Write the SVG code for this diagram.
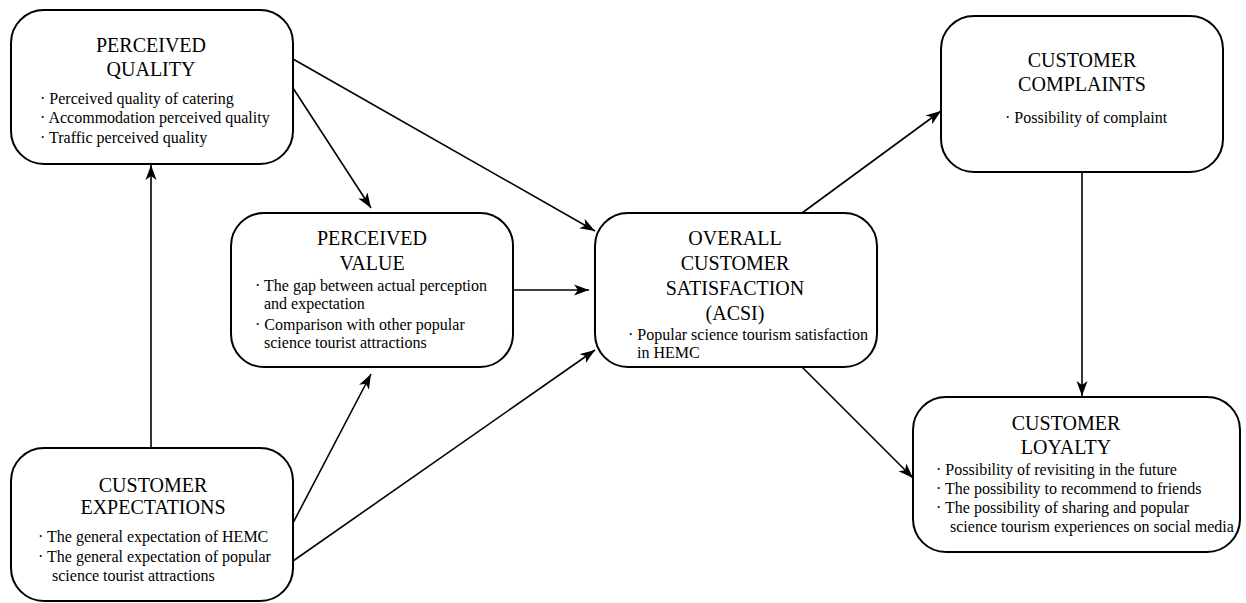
<svg xmlns="http://www.w3.org/2000/svg" width="1246" height="603" viewBox="0 0 1246 603">
<style>
.box{fill:#fff;stroke:#000;stroke-width:2}
.t{font-family:"Liberation Serif","Times New Roman",serif;font-size:20px;fill:#000;text-anchor:middle}
.b{font-family:"Liberation Serif","Times New Roman",serif;font-size:16px;fill:#000}
.c{stroke:#000;stroke-width:1.6;fill:none;marker-end:url(#ah)}
</style>
<defs>
<marker id="ah" markerUnits="userSpaceOnUse" markerWidth="16" markerHeight="12" refX="15" refY="6" orient="auto">
<path d="M0,0.5 L15,6 L0,11.5 L4,6 z" fill="#000"/>
</marker>
</defs>
<rect width="1246" height="603" fill="#fff"/>
<g id="connectors">
<line class="c" x1="151" y1="448" x2="151" y2="165"/>
<line class="c" x1="293" y1="59" x2="595" y2="231"/>
<line class="c" x1="293" y1="88" x2="371" y2="208"/>
<line class="c" x1="512" y1="290" x2="589" y2="290"/>
<line class="c" x1="293" y1="523" x2="371" y2="374"/>
<line class="c" x1="293" y1="561" x2="595" y2="350"/>
<line class="c" x1="802" y1="213" x2="941" y2="111"/>
<line class="c" x1="802" y1="367" x2="913" y2="478"/>
<line class="c" x1="1082" y1="172" x2="1082" y2="396"/>
</g>
<g id="perceived-quality">
<rect class="box" x="11" y="10" width="282" height="154" rx="33"/>
<text class="t" x="151" y="52">PERCEIVED</text>
<text class="t" x="151" y="76">QUALITY</text>
<text class="b" x="40" y="104">· Perceived quality of catering</text>
<text class="b" x="40" y="123">· Accommodation perceived quality</text>
<text class="b" x="40" y="143">· Traffic perceived quality</text>
</g>
<g id="perceived-value">
<rect class="box" x="231" y="213" width="282" height="154" rx="33"/>
<text class="t" x="372" y="245">PERCEIVED</text>
<text class="t" x="372" y="270">VALUE</text>
<text class="b" x="255" y="291">· The gap between actual perception</text>
<text class="b" x="264" y="309">and expectation</text>
<text class="b" x="255" y="330">· Comparison with other popular</text>
<text class="b" x="264" y="348">science tourist attractions</text>
</g>
<g id="overall-satisfaction">
<rect class="box" x="595" y="213" width="282" height="154" rx="33"/>
<text class="t" x="735" y="245">OVERALL</text>
<text class="t" x="735" y="270">CUSTOMER</text>
<text class="t" x="735" y="295">SATISFACTION</text>
<text class="t" x="735" y="320">(ACSI)</text>
<text class="b" x="628" y="340">· Popular science tourism satisfaction</text>
<text class="b" x="637" y="358">in HEMC</text>
</g>
<g id="customer-complaints">
<rect class="box" x="941" y="16" width="282" height="156" rx="33"/>
<text class="t" x="1082" y="67">CUSTOMER</text>
<text class="t" x="1082" y="91">COMPLAINTS</text>
<text class="b" x="1005" y="123">· Possibility of complaint</text>
</g>
<g id="customer-loyalty">
<rect class="box" x="913" y="397" width="327" height="155" rx="33"/>
<text class="t" x="1066" y="430">CUSTOMER</text>
<text class="t" x="1066" y="454">LOYALTY</text>
<text class="b" x="936" y="475">· Possibility of revisiting in the future</text>
<text class="b" x="936" y="494">· The possibility to recommend to friends</text>
<text class="b" x="936" y="513">· The possibility of sharing and popular</text>
<text class="b" x="950" y="532">science tourism experiences on social media</text>
</g>
<g id="customer-expectations">
<rect class="box" x="11" y="448" width="282" height="153" rx="33"/>
<text class="t" x="153" y="492">CUSTOMER</text>
<text class="t" x="153" y="514">EXPECTATIONS</text>
<text class="b" x="38" y="542">· The general expectation of HEMC</text>
<text class="b" x="38" y="562">· The general expectation of popular</text>
<text class="b" x="52" y="581">science tourist attractions</text>
</g>
</svg>
